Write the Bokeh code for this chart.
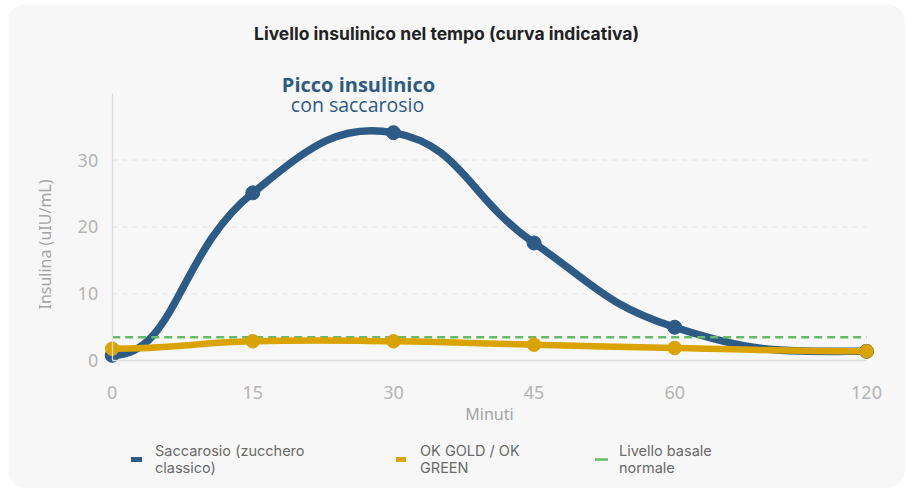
import math
from bokeh.plotting import figure
from bokeh.models import Range1d, FixedTicker, Label, Legend, LegendItem
from bokeh.embed import file_html
from bokeh.resources import INLINE

# ---------------- data ----------------
MINUTES = [0, 15, 30, 45, 60, 120]
X_LABELS = ["0", "15", "30", "45", "60", "120"]
SACCAROSIO = [0.8, 25.1, 34.1, 17.6, 5.0, 1.4]
OK_GOLD = [1.8, 2.9, 2.9, 2.4, 1.9, 1.4]
BASALE = 3.5
Y_TICKS = [0, 10, 20, 30]
Y_MAX = 40

TITLE = "Livello insulinico nel tempo (curva indicativa)"
PEAK_TITLE = "Picco insulinico"
PEAK_SUB = "con saccarosio"
X_TITLE = "Minuti"
Y_TITLE = "Insulina (uIU/mL)"
NAME_SAC = "Saccarosio (zucchero\nclassico)"
NAME_OK = "OK GOLD / OK\nGREEN"
NAME_BAS = "Livello basale\nnormale"

# ---------------- style ----------------
CARD = "#f7f7f7"
BLUE = "#2d5b86"
GOLD = "#d9a300"
GREEN = "#66b966"
TICK_C = "#b4b4b4"
AXTITLE_C = "#a4a4a4"

# broken x axis: the last interval (60 -> 120) is drawn compressed
BREAK = 60
SQUEEZE = 0.341


def axis_x(m):
    return m if m <= BREAK else BREAK + (m - BREAK) * SQUEEZE


XS = [axis_x(m) for m in MINUTES]

# canvas placement on the page and size
FIG_X, FIG_Y = 8, 4
W, H = 897, 484
# the frame covers the whole canvas; page pixel of data origin and scales
PX0, PY0 = 111.7, 360.2
SX, SY = 9.375, 6.6875
X0 = -(PX0 - FIG_X) / SX
X1 = (FIG_X + W - PX0) / SX
Y1 = (PY0 - FIG_Y) / SY
Y0 = -(FIG_Y + H - PY0) / SY

p = figure(width=W, height=H, output_backend="svg", toolbar_location=None,
           x_range=Range1d(X0, X1), y_range=Range1d(Y0, Y1),
           min_border=0, min_border_left=0, min_border_right=0,
           min_border_top=0, min_border_bottom=0,
           background_fill_color=CARD, border_fill_color=CARD, outline_line_color=None)
p.styles = {"margin-left": f"{FIG_X}px", "margin-top": f"{FIG_Y}px",
            "border-radius": "18px", "overflow": "hidden"}


def sx_to_x(page_x):
    return (page_x - PX0) / SX


def sy_to_y(page_y):
    return (PY0 - page_y) / SY


# dashed grid lines
p.xgrid.visible = False
p.ygrid.visible = False
grid_y = [t for t in Y_TICKS if t > 0]
p.segment(x0=[XS[0]] * len(grid_y), x1=[XS[-1]] * len(grid_y), y0=grid_y, y1=grid_y,
          line_color="#e3e3e3", line_width=1, line_dash="5 5")

# axes fixed at the data origin, with bounded lines
xa, ya = p.xaxis[0], p.yaxis[0]
xa.fixed_location = 0
ya.fixed_location = 0
xa.bounds = (XS[0], XS[-1])
ya.bounds = (0, Y_MAX)
xa.ticker = FixedTicker(ticks=XS)
xa.major_label_overrides = {x: lab for x, lab in zip(XS, X_LABELS)}
ya.ticker = FixedTicker(ticks=Y_TICKS)
for ax in (xa, ya):
    ax.axis_line_color = "#dcdcdc"
    ax.axis_line_width = 1.3
    ax.major_tick_line_color = None
    ax.minor_tick_line_color = None
    ax.major_tick_out = 0
    ax.major_tick_in = 0
    ax.major_label_text_font = "Noto Sans"
    ax.major_label_text_font_size = "18px"
    ax.major_label_text_color = TICK_C
xa.major_label_standoff = 25
ya.major_label_standoff = 14
xa.axis_label = X_TITLE
xa.axis_label_text_font = "Noto Sans"
xa.axis_label_text_font_style = "normal"
xa.axis_label_text_font_size = "16px"
xa.axis_label_text_color = AXTITLE_C
xa.axis_label_standoff = 1


def spline(xs, ys, t=0.45):
    """Cardinal-type smoothing (computed in screen space) with flat ends."""
    px = [x * SX for x in xs]
    py = [y * SY for y in ys]
    n = len(px)
    cps = []
    for i in range(n):
        a, b = max(i - 1, 0), min(i + 1, n - 1)
        d01 = math.hypot(px[i] - px[a], py[i] - py[a])
        d12 = math.hypot(px[b] - px[i], py[b] - py[i])
        tot = d01 + d12
        s01 = d01 / tot if tot else 0
        s12 = d12 / tot if tot else 0
        fa, fb = t * s01, t * s12
        dx, dy = px[b] - px[a], py[b] - py[a]
        if i == 0 or i == n - 1:
            dy = 0.0
        cps.append(((px[i] - fa * dx, py[i] - fa * dy), (px[i] + fb * dx, py[i] + fb * dy)))
    seg = dict(x0=[], y0=[], x1=[], y1=[], cx0=[], cy0=[], cx1=[], cy1=[])
    for i in range(n - 1):
        seg["x0"].append(xs[i]); seg["y0"].append(ys[i])
        seg["x1"].append(xs[i + 1]); seg["y1"].append(ys[i + 1])
        seg["cx0"].append(cps[i][1][0] / SX); seg["cy0"].append(cps[i][1][1] / SY)
        seg["cx1"].append(cps[i + 1][0][0] / SX); seg["cy1"].append(cps[i + 1][0][1] / SY)
    return seg


# Saccarosio
p.bezier(**spline(XS, SACCAROSIO), line_color=BLUE, line_width=7.5, line_cap="round")
p.scatter(XS, SACCAROSIO, size=14, fill_color=BLUE, line_color=BLUE)

# basal level
p.line([XS[0], XS[-1]], [BASALE, BASALE], line_color=GREEN, line_width=2.5, line_dash="8 5")

# OK GOLD / OK GREEN
p.bezier(**spline(XS, OK_GOLD), line_color=GOLD, line_width=6.5, line_cap="round")
p.scatter(XS, OK_GOLD, size=13.5, fill_color=GOLD, line_color=GOLD)

# legend swatches (hidden copies of the series, used only for the legend key)
sw_blue = p.line(XS, SACCAROSIO, line_color=BLUE, line_width=5, line_cap="round", visible=False)
sw_gold = p.line(XS, OK_GOLD, line_color=GOLD, line_width=5, line_cap="round", visible=False)
sw_green = p.line([XS[0], XS[-1]], [BASALE, BASALE], line_color=GREEN, line_width=2.5,
                  line_cap="round", visible=False)

for rend, name, page_x, gw, so in ((sw_blue, NAME_SAC, 131, 11, 13),
                                   (sw_gold, NAME_OK, 396, 10, 14),
                                   (sw_green, NAME_BAS, 595, 13, 11)):
    lg = Legend(items=[LegendItem(label=name, renderers=[rend])],
                location=(page_x - FIG_X, 12),
                padding=0, margin=0, border_line_color=None, background_fill_alpha=0,
                inactive_fill_alpha=0,
                glyph_width=gw, glyph_height=14, label_standoff=so,
                label_text_font="Inter", label_text_font_size="14.5px",
                label_text_color="#6a6a6a", label_text_line_height=1.15)
    p.add_layout(lg, "center")

# texts
p.add_layout(Label(x=sx_to_x(446), y=sy_to_y(33), text=TITLE, text_align="center",
                   text_baseline="middle", text_font="Inter", text_font_style="bold",
                   text_font_size="17.5px", text_color="#222222"))
p.add_layout(Label(x=sx_to_x(358), y=sy_to_y(84), text=PEAK_TITLE, text_align="center",
                   text_baseline="middle", text_font="Open Sans", text_font_style="bold",
                   text_font_size="20px", text_color=BLUE))
p.add_layout(Label(x=sx_to_x(357), y=sy_to_y(104), text=PEAK_SUB, text_align="center",
                   text_baseline="middle", text_font="Open Sans",
                   text_font_size="19.5px", text_color=BLUE))
p.add_layout(Label(x=sx_to_x(44), y=sy_to_y(244), text=Y_TITLE, angle=math.pi / 2,
                   text_align="center", text_baseline="middle", text_font="Noto Sans",
                   text_font_size="16px", text_color=AXTITLE_C))

open("out.html", "w").write(file_html(p, INLINE))
